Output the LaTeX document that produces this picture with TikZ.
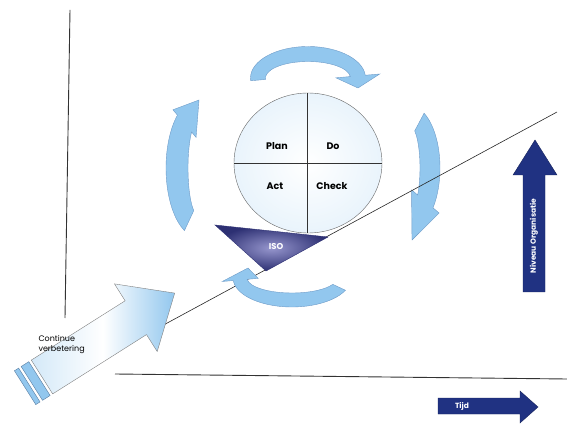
\documentclass[tikz,border=0pt]{standalone}
\usepackage{fontspec}
\setmainfont{Poppins}
\usepackage{tikz}
\usetikzlibrary{calc,shadings}

\definecolor{cycleblue}{RGB}{146,199,238}
\definecolor{cycleedge}{RGB}{110,155,200}
\definecolor{navyarrow}{RGB}{32,50,130}
\definecolor{isodark}{RGB}{45,48,115}
\definecolor{isolight}{RGB}{150,150,205}

\tikzset{
  turn arrow/.style={fill=cycleblue, draw=cycleedge, line width=0.4pt},
  pdca/.style={font=\bfseries\fontsize{9.5}{11}\selectfont},
  axis line/.style={line width=0.9pt, draw=black!80},
  navy arrow/.style={fill=navyarrow, draw=navyarrow!70!black, line width=0.4pt},
  white label/.style={text=white, font=\bfseries\fontsize{7.5}{8}\selectfont}
}

% curved block arrow: centre, rx, ry, start, end, half width, head half width, tip
\newcommand{\turnarrow}[8]{%
  \draw[turn arrow] ($#1+(#4:{#2+#6} and {#3+#6})$)
    arc[start angle=#4, end angle=#5, x radius=#2+#6, y radius=#3+#6]
    -- ($#1+(#5:{#2+#7} and {#3+#7})$) -- #8
    -- ($#1+(#5:{#2-#7} and {#3-#7})$)
    -- ($#1+(#5:{#2-#6} and {#3-#6})$)
    arc[start angle=#5, end angle=#4, x radius=#2-#6, y radius=#3-#6] -- cycle;}

\begin{document}
\begin{tikzpicture}[x=1pt,y=-1pt]
\useasboundingbox (0,0) rectangle (567,435);
% axes
\coordinate (Ytop) at (70,10);
\coordinate (Ybot) at (65,318);
\coordinate (Xleft) at (115,374);
\coordinate (Xright) at (567,379);
\draw[axis line] (Ytop) -- (Ybot);
\draw[axis line] (Xleft) -- (Xright);
% wheel
\coordinate (W) at (308,163);
\draw[black!60, inner color=white, outer color=cycleblue!20] (W) ellipse (74 and 70);
\draw[black!80] ($(W)+(-1,-70)$) -- ($(W)+(-1,70)$);
\draw[black!80] ($(W)+(-74,0)$) -- ($(W)+(74,0)$);
\node[pdca] (plan) at (277,146) {Plan};
\node[pdca] (do) at (333,146) {Do};
\node[pdca] (act) at (275,186) {Act};
\node[pdca] (check) at (332,186) {Check};
% turning arrows
\turnarrow{(308,78)}{50}{24}{175}{355}{7.5}{22}{(358,88)}
\turnarrow{(410,168)}{20}{52}{-62}{40}{10}{18}{(412,240)}
\turnarrow{(198,168)}{21}{58}{115}{230}{11}{18}{(199,100)}
% slope
\coordinate (Sfrom) at (158,328);
\coordinate (Sto) at (557,112);
\draw[black!85, line width=0.6pt] (Sfrom) -- (Sto);
\turnarrow{(292,278)}{52}{22}{25}{175}{7}{18}{(248,268)}
% ISO wedge
\coordinate (isoL) at (215,225);
\coordinate (isoR) at (328,237);
\coordinate (isoB) at (266,271);
\draw[isodark, inner color=isolight, outer color=isodark] (isoL) -- (isoR) -- (isoB) -- cycle;
\node[white label, font=\bfseries\fontsize{8.5}{9}\selectfont] (iso) at (276,247) {ISO};
% improvement arrow
\begin{scope}[shift={(42,377)}, rotate=32.3]
\draw[black!50, left color=cycleblue!40, right color=cycleblue, middle color=white]
  (0,-20) -- (111,-20) -- (111,-40) -- (157,0) -- (111,40) -- (111,20) -- (0,20) -- cycle;
\draw[fill=cycleblue, draw=cycleedge!80!black] (-12,-20) rectangle (-3,20);
\draw[fill=cycleblue, draw=cycleedge!80!black] (-20,-20) rectangle (-15,20);
\end{scope}
\node[anchor=west, align=left, font=\fontsize{8}{10}\selectfont] (cv) at (35,345) {Continue\\verbetering};
% level arrow
\draw[navy arrow] (523,292) -- (523,175) -- (513,175) -- (535,140) -- (557,175) -- (545,175) -- (545,292) -- cycle;
\node[white label, rotate=90] (niveau) at (534,236) {Niveau Organisatie};
% time arrow
\draw[navy arrow] (438,398) -- (520,398) -- (520,391) -- (538,407) -- (520,423) -- (520,414) -- (438,414) -- cycle;
\node[white label] (tijd) at (462,406) {Tijd};
\end{tikzpicture}
\end{document}
